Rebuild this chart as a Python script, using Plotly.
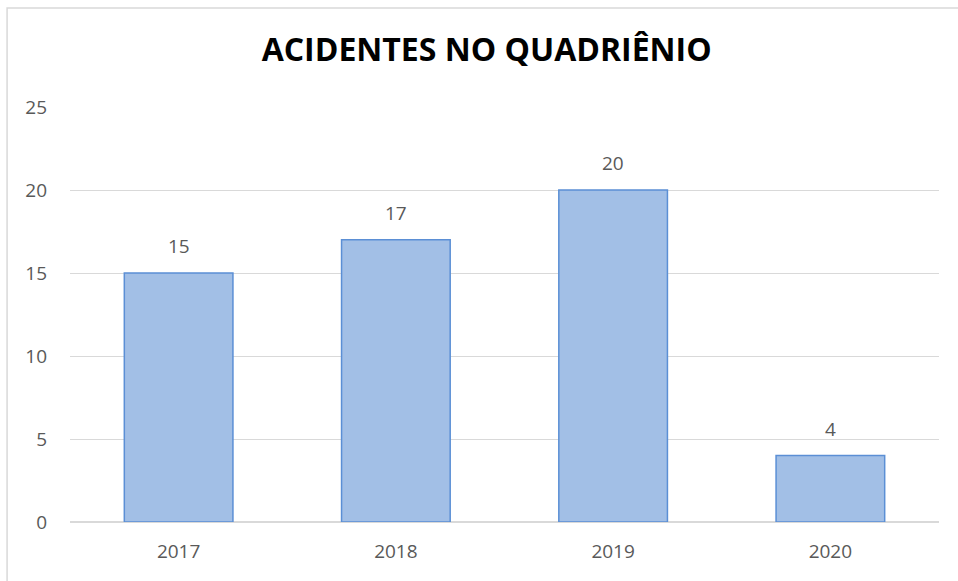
import plotly.graph_objects as go

years = ["2017", "2018", "2019", "2020"]
accidents = [15, 17, 20, 4]
y_ticks = [0, 5, 10, 15, 20, 25]
title_text = "ACIDENTES NO QUADRIÊNIO"

fig = go.Figure()
fig.add_trace(go.Bar(
    x=years, y=accidents, width=0.5,
    marker=dict(color="#a2bfe6", line=dict(color="#5b8fd5", width=1.5)),
    hoverinfo="x+y",
))

for i, v in enumerate(accidents):
    fig.add_annotation(x=i, y=v, text=str(v), showarrow=False,
                       yshift=27, font=dict(family="Open Sans", size=19, color="#595959"))

fig.add_shape(type="rect", xref="paper", yref="paper",
              x0=-0.0724, x1=1.2, y0=-0.3, y1=1.2386,
              line=dict(color="#d9d9d9", width=1.5), fillcolor="rgba(0,0,0,0)", layer="below")

fig.update_layout(
    width=958, height=581,
    margin=dict(l=70, r=19, t=107, b=59),
    paper_bgcolor="white", plot_bgcolor="white",
    title=dict(text="<b>" + title_text + "</b>", x=0.508, xanchor="center",
               y=1 - 50 / 581, yanchor="middle",
               font=dict(family="Open Sans", size=32, color="#000000")),
    font=dict(family="Open Sans", size=19, color="#595959"),
    showlegend=False,
    bargap=0.5,
)
fig.update_yaxes(range=[0, 25], tickvals=y_ticks, showgrid=True, gridcolor="#d9d9d9",
                 gridwidth=1, zeroline=True, zerolinecolor="#d9d9d9", zerolinewidth=1.5,
                 showline=False, ticks="", ticklabelstandoff=22,
                 tickfont=dict(family="Open Sans", size=19, color="#595959"))
fig.update_xaxes(type="category", categoryorder="array", categoryarray=years,
                 range=[-0.5, len(years) - 0.5],
                 showgrid=False, showline=False, ticks="", ticklabelstandoff=16,
                 tickfont=dict(family="Open Sans", size=19, color="#595959"))

fig.write_html("out.html", config={"displayModeBar": False},
               post_script="document.body.style.margin='0';")
